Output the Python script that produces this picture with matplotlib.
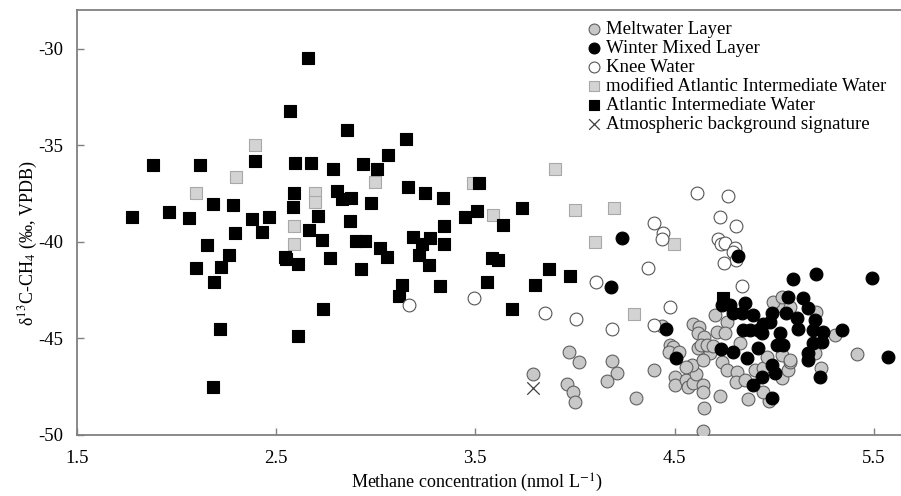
import matplotlib
matplotlib.use("Agg")
import matplotlib.pyplot as plt

# Meltwater Layer (grey circles)
melt_x = [3.792, 3.97, 4.02, 3.96, 3.99, 4.00, 4.184, 4.213, 4.159, 4.306, 4.397, 4.435,
          4.477, 4.494, 4.474, 4.524, 4.502, 4.502, 4.557, 4.569, 4.594, 4.607, 4.586,
          4.644, 4.644, 4.647, 4.645, 4.728, 4.594, 4.624, 4.619, 4.647, 4.703, 4.762,
          4.711, 4.619, 4.631, 4.678, 4.661, 4.694, 4.736, 4.762, 4.557, 4.644, 4.753,
          4.812, 4.808, 4.853, 4.903, 4.945, 5.037, 5.070, 5.079, 5.037, 5.045, 4.870,
          4.975, 4.945, 4.828, 4.995, 5.037, 5.079, 5.210, 5.414, 5.305, 5.205, 5.233,
          4.962, 5.079]
melt_y = [-46.85, -45.70, -46.20, -47.35, -47.80, -48.30, -46.16, -46.78, -47.20, -48.11,
          -46.64, -44.36, -45.35, -45.44, -45.70, -45.70, -47.02, -47.42, -47.16, -47.51,
          -47.33, -46.85, -46.38, -47.42, -47.76, -48.62, -49.78, -47.99, -44.23, -44.43,
          -44.74, -44.95, -43.80, -44.14, -44.66, -45.52, -45.35, -45.78, -45.35, -45.40,
          -46.21, -46.64, -46.47, -46.12, -44.74, -46.73, -47.25, -47.16, -46.64, -46.55,
          -47.07, -46.64, -46.21, -45.87, -43.37, -48.14, -48.25, -47.76, -45.26, -43.11,
          -42.88, -43.37, -43.63, -45.83, -44.83, -45.78, -46.55, -45.95, -46.12]

# Winter Mixed Layer (black circles)
winter_x = [4.235, 4.181, 4.820, 5.093, 5.210, 5.489, 4.457, 4.505, 4.731, 4.736, 4.778,
            4.853, 4.794, 4.836, 4.895, 4.987, 4.979, 4.945, 4.920, 4.878, 4.845, 4.937,
            5.029, 5.012, 5.045, 4.920, 4.794, 4.862, 4.987, 5.004, 4.937, 4.895, 5.070,
            5.145, 5.171, 5.205, 5.113, 5.121, 5.196, 5.246, 5.238, 5.196, 5.171, 5.171,
            5.230, 5.059, 5.338, 5.572, 4.987]
winter_y = [-39.83, -42.33, -40.74, -41.95, -41.69, -41.90, -44.54, -46.04, -45.57, -43.28,
            -43.28, -43.16, -43.71, -43.71, -43.80, -43.71, -44.14, -44.23, -44.57, -44.57,
            -44.57, -44.74, -44.74, -45.35, -45.35, -45.52, -45.70, -46.04, -46.38, -46.81,
            -46.98, -47.42, -42.85, -42.93, -43.45, -44.06, -43.97, -44.49, -44.57, -44.66,
            -45.18, -45.26, -45.78, -46.12, -46.98, -43.71, -44.57, -45.95, -48.11]

# Knee Water (open circles)
knee_x = [3.167, 3.492, 3.852, 4.611, 4.397, 4.443, 4.438, 4.368, 4.106, 4.005, 4.184,
          4.477, 4.397, 4.766, 4.728, 4.808, 4.719, 4.731, 4.753, 4.803, 4.794, 4.808,
          4.748, 4.837]
knee_y = [-43.25, -42.93, -43.71, -37.47, -39.02, -39.54, -39.88, -41.38, -42.07, -44.02,
          -44.49, -43.40, -44.31, -37.62, -38.71, -39.18, -39.87, -40.14, -40.06, -40.30,
          -40.52, -40.95, -41.12, -42.30]

# modified Atlantic Intermediate Water (grey squares)
maiw_x = [2.397, 2.297, 2.098, 2.590, 2.590, 2.997, 3.487, 2.695, 2.695, 3.590, 3.900,
          4.000, 4.198, 4.100, 4.497, 4.298]
maiw_y = [-35.00, -36.64, -37.45, -39.19, -40.09, -36.90, -36.97, -37.45, -37.92, -38.62,
          -36.21, -38.37, -38.23, -40.02, -40.09, -43.75]

# Atlantic Intermediate Water (black squares)
aiw_x = [2.570, 1.885, 2.120, 2.397, 2.595, 1.777, 1.965, 2.065, 2.183, 2.286, 2.378,
         2.463, 2.295, 2.428, 2.590, 2.587, 2.155, 2.100, 2.263, 2.223, 2.190, 2.217,
         2.183, 2.545, 2.550, 2.612, 2.612, 2.663, 2.858, 3.150, 3.063, 2.675, 2.785,
         2.938, 3.005, 3.520, 3.160, 3.247, 3.338, 2.805, 2.830, 2.875, 2.975, 2.713,
         2.668, 2.730, 2.873, 2.903, 2.948, 3.022, 3.188, 3.233, 3.275, 3.345, 3.343,
         3.447, 3.508, 3.058, 2.772, 2.928, 3.220, 3.267, 3.640, 3.733, 3.583, 3.613,
         3.558, 3.325, 3.133, 3.117, 3.800, 3.870, 3.977, 3.683, 2.737, 4.745]
aiw_y = [-33.24, -36.02, -36.02, -35.80, -35.92, -38.71, -38.47, -38.78, -38.05, -38.09,
         -38.83, -38.71, -39.57, -39.49, -37.47, -38.19, -40.16, -41.37, -40.69, -41.30,
         -42.07, -44.49, -47.52, -40.78, -40.90, -41.14, -44.90, -30.50, -34.23, -34.69,
         -35.52, -35.90, -36.21, -36.00, -36.23, -36.95, -37.14, -37.45, -37.73, -37.38,
         -37.80, -37.71, -37.99, -38.68, -39.40, -39.92, -38.92, -39.97, -39.97, -40.30,
         -39.74, -40.14, -39.80, -39.16, -40.14, -38.71, -38.40, -40.78, -40.83, -41.40,
         -40.69, -41.21, -39.14, -38.23, -40.86, -40.95, -42.07, -42.30, -42.25, -42.81,
         -42.25, -41.42, -41.76, -43.49, -43.50, -42.93]

# Atmospheric background signature
atm_x = [3.792]
atm_y = [-47.56]

plt.rcParams['font.family'] = ['Liberation Serif', 'DejaVu Serif']
plt.rcParams['mathtext.fontset'] = 'stix'
plt.rcParams['axes.unicode_minus'] = False

fig = plt.figure(figsize=(9.01, 4.96), dpi=100)
ax = fig.add_axes([0.0851, 0.123, 0.9149, 0.857])

circ = 85
sq = 64
ax.scatter(melt_x, melt_y, s=circ, marker='o', facecolor='#c8c8c8', edgecolor='#606060',
           linewidth=0.8, zorder=3, label='Meltwater Layer')
ax.scatter(winter_x, winter_y, s=circ, marker='o', facecolor='black', edgecolor='black',
           linewidth=0.8, zorder=5, label='Winter Mixed Layer')
ax.scatter(knee_x, knee_y, s=circ, marker='o', facecolor='white', edgecolor='#555555',
           linewidth=0.8, zorder=4, label='Knee Water')
ax.scatter(maiw_x, maiw_y, s=sq, marker='s', facecolor='#d3d3d3', edgecolor='#a8a8a8',
           linewidth=0.8, zorder=2, label='modified Atlantic Intermediate Water')
ax.scatter(aiw_x, aiw_y, s=sq, marker='s', facecolor='black', edgecolor='black',
           linewidth=0.8, zorder=2, label='Atlantic Intermediate Water')
ax.scatter(atm_x, atm_y, s=80, marker='x', color='#404040', linewidth=0.9, zorder=3,
           label='Atmospheric background signature')

ax.set_xlim(1.5, 5.636)
ax.set_ylim(-50, -28)
ax.set_xticks([1.5, 2.5, 3.5, 4.5, 5.5])
ax.set_xticklabels(['1.5', '2.5', '3.5', '4.5', '5.5'])
ax.set_yticks([-50, -45, -40, -35, -30])

for side in ['left', 'bottom', 'top']:
    ax.spines[side].set_color('#808080')
    ax.spines[side].set_linewidth(1.3)
ax.spines['right'].set_visible(False)
ax.tick_params(direction='in', length=5, width=1, color='#808080', labelsize=13.5,
               pad=10)
ax.tick_params(axis='x', pad=11)

ax.set_xlabel('Methane concentration (nmol L$^{-1}$)', fontsize=13)
ax.set_ylabel('δ$^{13}$C-CH$_4$ (‰, VPDB)', fontsize=13)
ax.xaxis.set_label_coords(0.485, -0.086)
ax.yaxis.set_label_coords(-0.045, 0.45)

fig.legend(loc='upper left', bbox_to_anchor=(0.652, 0.958), frameon=False, fontsize=13.5,
           handlelength=0.7, handletextpad=0.3, labelspacing=0.1, borderpad=0,
           borderaxespad=0, scatterpoints=1, markerscale=0.85)

fig.savefig('out.png', dpi=100)
